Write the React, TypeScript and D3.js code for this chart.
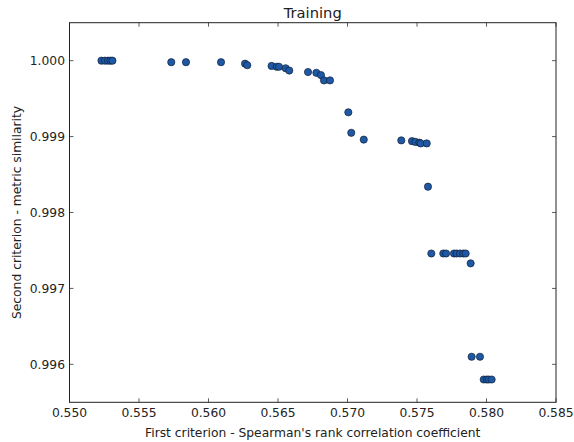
import React from "react";
import * as d3 from "d3";

// first criterion (Spearman) per point
const xValues = [
  0.5523, 0.55255, 0.55277, 0.55295, 0.55309, 0.55732, 0.55838, 0.5609, 0.56263, 0.56279,
  0.56454, 0.56491, 0.56507, 0.56555, 0.56581, 0.56716, 0.56776, 0.56809, 0.56831, 0.56874,
  0.57006, 0.57027, 0.57117, 0.57387, 0.57464, 0.57488, 0.57517, 0.57527, 0.5757, 0.57579,
  0.57603, 0.57689, 0.57709, 0.57766, 0.57785, 0.57809, 0.57833, 0.5785, 0.57886, 0.57893,
  0.57953, 0.5798, 0.58001, 0.58016, 0.58037,
];
// second criterion (metric similarity) per point
const yValues = [
  1.0, 1.0, 1.0, 1.0, 1.0, 0.99998, 0.99998, 0.99998, 0.99996, 0.99994,
  0.99993, 0.99992, 0.99992, 0.9999, 0.99987, 0.99985, 0.99984, 0.99981, 0.99974, 0.99974,
  0.99932, 0.99905, 0.99896, 0.99895, 0.99894, 0.99893, 0.99892, 0.99891, 0.99891, 0.99834,
  0.99746, 0.99746, 0.99746, 0.99746, 0.99746, 0.99746, 0.99746, 0.99746, 0.99733, 0.9961,
  0.9961, 0.9958, 0.9958, 0.9958, 0.9958,
];

const xTicks = [0.55, 0.555, 0.56, 0.565, 0.57, 0.575, 0.58, 0.585];
const yTicks = [0.996, 0.997, 0.998, 0.999, 1.0];

export default function App() {
  const svgRef = React.useRef<SVGSVGElement>(null);
  const width = 574;
  const height = 442;
  const margin = { left: 69.5, right: 18, top: 22.7, bottom: 39.7 };

  React.useEffect(() => {
    const svgEl = d3.select(svgRef.current);
    svgEl.selectAll("*").remove();

    const x = d3.scaleLinear().domain([0.55, 0.585]).range([margin.left, width - margin.right]);
    const y = d3.scaleLinear().domain([0.9955, 1.0005]).range([height - margin.bottom, margin.top]);
    const font = "DejaVu Sans, sans-serif";
    const tickLen = 4;

    svgEl.append("rect").attr("width", width).attr("height", height).attr("fill", "white");

    // ticks on all four sides, pointing inwards
    const g = svgEl.append("g");
    xTicks.forEach((t) => {
      g.append("line").attr("x1", x(t)).attr("x2", x(t))
        .attr("y1", y.range()[0]).attr("y2", y.range()[0] - tickLen)
        .attr("stroke", "#2a3a40").attr("stroke-width", 0.8);
      g.append("line").attr("x1", x(t)).attr("x2", x(t))
        .attr("y1", y.range()[1]).attr("y2", y.range()[1] + tickLen)
        .attr("stroke", "#2a3a40").attr("stroke-width", 0.8);
      g.append("text").text(d3.format(".3f")(t))
        .attr("x", x(t)).attr("y", 416.5)
        .attr("text-anchor", "middle")
        .attr("font-family", font).attr("font-size", 12.3).attr("fill", "#222");
    });
    yTicks.forEach((t) => {
      g.append("line").attr("x1", x.range()[0]).attr("x2", x.range()[0] + tickLen)
        .attr("y1", y(t)).attr("y2", y(t))
        .attr("stroke", "#2a3a40").attr("stroke-width", 0.8);
      g.append("line").attr("x1", x.range()[1]).attr("x2", x.range()[1] - tickLen)
        .attr("y1", y(t)).attr("y2", y(t))
        .attr("stroke", "#2a3a40").attr("stroke-width", 0.8);
      g.append("text").text(d3.format(".3f")(t))
        .attr("x", 65).attr("y", y(t))
        .attr("dy", "0.35em")
        .attr("text-anchor", "end")
        .attr("font-family", font).attr("font-size", 12.3).attr("fill", "#222");
    });

    // points
    svgEl.append("g").selectAll("circle")
      .data(xValues.map((v, i) => [v, yValues[i]]))
      .enter()
      .append("circle")
      .attr("cx", (d) => x(d[0]))
      .attr("cy", (d) => y(d[1]))
      .attr("r", 3.6)
      .attr("fill", "#1f58a4")
      .attr("stroke", "#10203a")
      .attr("stroke-width", 0.7);

    // frame
    svgEl.append("rect")
      .attr("x", x.range()[0]).attr("y", y.range()[1])
      .attr("width", x.range()[1] - x.range()[0])
      .attr("height", y.range()[0] - y.range()[1])
      .attr("fill", "none").attr("stroke", "#222").attr("stroke-width", 1);

    const cx = (x.range()[0] + x.range()[1]) / 2;
    const cy = (y.range()[0] + y.range()[1]) / 2;
    svgEl.append("text").text("Training")
      .attr("x", cx).attr("y", 17.5).attr("text-anchor", "middle")
      .attr("font-family", font).attr("font-size", 14.7).attr("fill", "#222");
    svgEl.append("text").text("First criterion - Spearman's rank correlation coefficient")
      .attr("x", cx).attr("y", 436.5).attr("text-anchor", "middle")
      .attr("font-family", font).attr("font-size", 12.3).attr("fill", "#222");
    svgEl.append("text").text("Second criterion - metric similarity")
      .attr("transform", `translate(20.5,${cy}) rotate(-90)`)
      .attr("text-anchor", "middle")
      .attr("font-family", font).attr("font-size", 12.3).attr("fill", "#222");
  }, []);

  return (
    <svg ref={svgRef} width={width} height={height}
      style={{ position: "absolute", left: 0, top: 0, display: "block" }} />
  );
}
